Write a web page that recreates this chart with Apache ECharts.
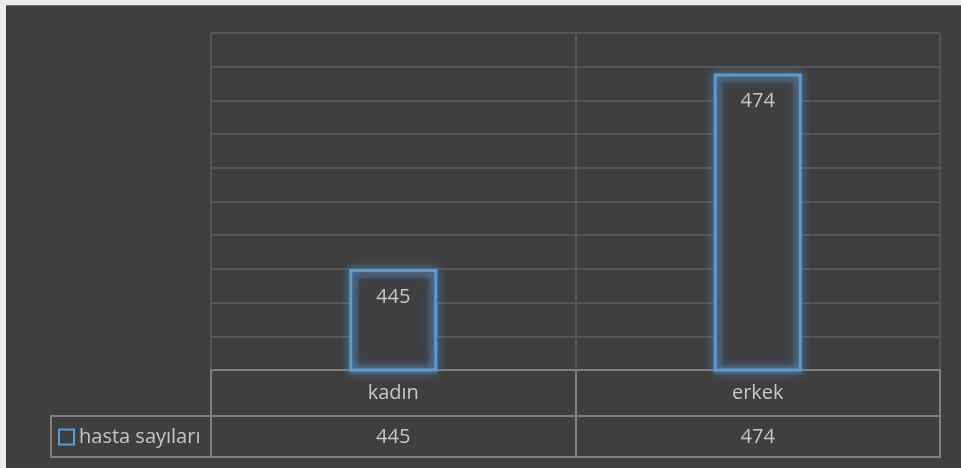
<!DOCTYPE html>
<html>
<head>
<meta charset="utf-8">
<script src="https://cdn.jsdelivr.net/npm/echarts@6/dist/echarts.min.js"></script>
<style>
html,body{margin:0;padding:0;background:#ececec;}
#c{width:961px;height:468px;}
</style>
</head>
<body>
<div id="c"></div>
<script>
const categories = ['kadın', 'erkek'];
const seriesName = 'hasta sayıları';
const values = [445, 474];
const yMin = 430, yMax = 480, yStep = 5;

const FONT = 'Open Sans';
const BLUE = '#5b9bd5';
const BG = '#3f3f3f';
const GRID = '#555555';
const TABLE = '#808080';
const TXT = '#c6c6c6';

const chart = echarts.init(document.getElementById('c'), null, {renderer: 'canvas'});
chart.setOption({
  backgroundColor: BG,
  animation: false,
  grid: {left: 211, right: 21, top: 33, bottom: 98, containLabel: false},
  legend: {
    show: true,
    left: 58, top: 427, padding: 0,
    itemWidth: 15, itemHeight: 15, itemGap: 5,
    icon: 'rect',
    data: [seriesName],
    itemStyle: {color: 'rgba(0,0,0,0)', borderColor: BLUE, borderWidth: 2},
    textStyle: {color: TXT, fontFamily: FONT, fontSize: 20, padding: [0, 0, 0, 0]}
  },
  xAxis: [{
    type: 'category',
    data: categories,
    position: 'bottom',
    axisLine: {show: true, lineStyle: {color: TABLE, width: 2}},
    axisTick: {show: true, alignWithLabel: false, length: 87, lineStyle: {color: TABLE, width: 2}},
    splitLine: {show: true, lineStyle: {color: GRID, width: 2}},
    axisLabel: {color: TXT, fontFamily: FONT, fontSize: 20, lineHeight: 20, margin: 13}
  }, {
    type: 'category',
    data: values.map(String),
    position: 'bottom',
    offset: 46,
    axisLine: {show: false},
    axisTick: {show: false},
    splitLine: {show: false},
    axisLabel: {color: TXT, fontFamily: FONT, fontSize: 20, lineHeight: 20, margin: 11}
  }],
  yAxis: {
    type: 'value',
    min: yMin, max: yMax, interval: yStep,
    axisLine: {show: false},
    axisTick: {show: false},
    axisLabel: {show: false},
    splitLine: {show: true, lineStyle: {color: GRID, width: 2}}
  },
  series: [{
    name: seriesName,
    type: 'bar',
    data: values,
    barWidth: 88,
    itemStyle: {color: BG, borderWidth: 0},
    z: 2
  }, {
    name: seriesName + '_halo',
    type: 'bar',
    data: values,
    barWidth: 88,
    barGap: '-100%',
    itemStyle: {
      color: 'rgba(0,0,0,0)', borderColor: 'rgba(91,155,213,0.16)', borderWidth: 9,
      shadowBlur: 14, shadowColor: 'rgba(91,155,213,0.7)'
    },
    z: 3
  }, {
    name: seriesName + '_edge',
    type: 'bar',
    data: values,
    barWidth: 88,
    barGap: '-100%',
    itemStyle: {
      color: 'rgba(0,0,0,0)', borderColor: BLUE, borderWidth: 3,
      shadowBlur: 8, shadowColor: 'rgba(91,155,213,1)'
    },
    label: {
      show: true, position: 'insideTop', distance: 18,
      color: TXT, fontFamily: FONT, fontSize: 20
    },
    z: 4
  }],
  graphic: [
    {type: 'rect', shape: {x: 0, y: 0, width: 961, height: 5}, style: {fill: '#ececec'}, silent: true},
    {type: 'rect', shape: {x: 0, y: 0, width: 6, height: 468}, style: {fill: '#ececec'}, silent: true},
    {type: 'line', shape: {x1: 6, y1: 5.5, x2: 961, y2: 5.5}, style: {stroke: '#6a6a6a', lineWidth: 1}, silent: true},
    {type: 'line', shape: {x1: 50, y1: 416, x2: 941, y2: 416}, style: {stroke: TABLE, lineWidth: 2}, silent: true},
    {type: 'line', shape: {x1: 50, y1: 457, x2: 941, y2: 457}, style: {stroke: TABLE, lineWidth: 2}, silent: true},
    {type: 'line', shape: {x1: 51, y1: 416, x2: 51, y2: 458}, style: {stroke: TABLE, lineWidth: 2}, silent: true}
  ]
});
</script>
</body>
</html>
